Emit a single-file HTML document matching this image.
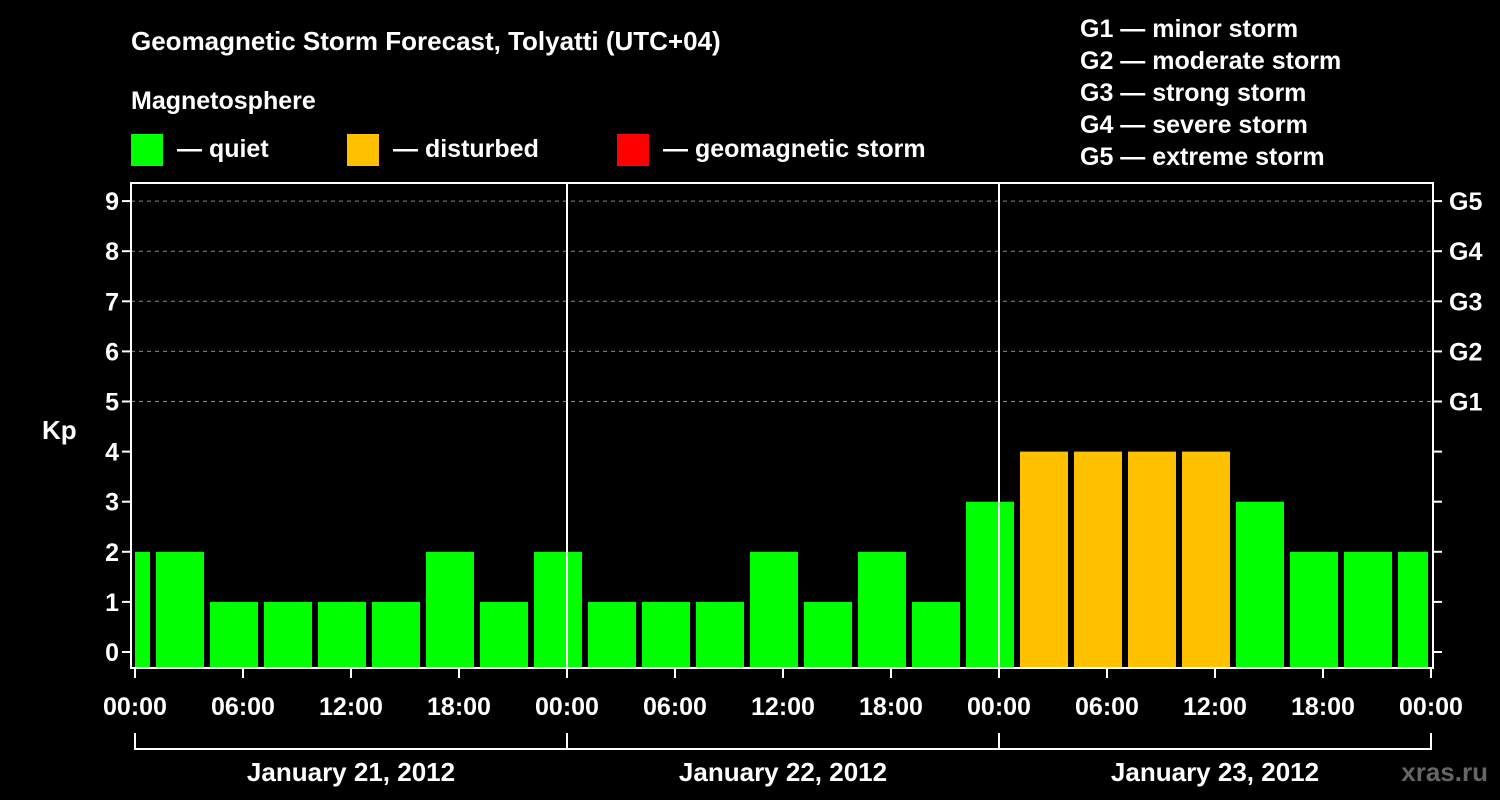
<!DOCTYPE html>
<html><head><meta charset="utf-8"><style>
body{margin:0;background:#000;}
svg{display:block;font-family:"Liberation Sans",sans-serif;font-weight:bold;}
</style></head><body>
<svg id="c" width="1500" height="800" viewBox="0 0 1500 800">
<rect width="1500" height="800" fill="#000"/>
<text x="131" y="50" fill="#fff" font-size="26">Geomagnetic Storm Forecast, Tolyatti (UTC+04)</text>
<text x="131" y="109" fill="#fff" font-size="25">Magnetosphere</text>
<g>
<rect x="131" y="134" width="32" height="32" fill="#00ff00"/>
<text x="177" y="157" fill="#fff" font-size="25">— quiet</text>
<rect x="347" y="134" width="32" height="32" fill="#ffc000"/>
<text x="393" y="157" fill="#fff" font-size="25">— disturbed</text>
<rect x="617" y="134" width="32" height="32" fill="#ff0000"/>
<text x="663" y="157" fill="#fff" font-size="25">— geomagnetic storm</text>
</g>
<g fill="#fff" font-size="25">
<text x="1080" y="37">G1 — minor storm</text>
<text x="1080" y="69">G2 — moderate storm</text>
<text x="1080" y="101">G3 — strong storm</text>
<text x="1080" y="133">G4 — severe storm</text>
<text x="1080" y="165">G5 — extreme storm</text>
</g>
<text x="42" y="439" fill="#fff" font-size="26">Kp</text>
<text x="1488" y="781" fill="#666" font-size="26" text-anchor="end">xras.ru</text>
<g id="grid"></g><g id="bars"></g><g id="axes"></g>
</svg>
<script>
const kpValues=[2,2,1,1,1,1,2,1,2,1,1,1,2,1,2,1,3,4,4,4,4,3,2,2,2];
const kpStatus=["q","q","q","q","q","q","q","q","q","q","q","q","q","q","q","q","q","d","d","d","d","q","q","q","q"];
const xTickLabels=["00:00","06:00","12:00","18:00","00:00","06:00","12:00","18:00","00:00","06:00","12:00","18:00","00:00"];
const dayLabels=["January 21, 2012","January 22, 2012","January 23, 2012"];
const yTicks=[0,1,2,3,4,5,6,7,8,9];
const gLabels=["G1","G2","G3","G4","G5"];
const NS="http://www.w3.org/2000/svg";
const X0=135,PXH=18,Y0=652,PXK=50.1;
const L=131,R=1433,T=183,B=668;
function x(h){return X0+h*PXH;}
function y(k){return Y0-k*PXK;}
function mk(tag,attrs,parent){const e=document.createElementNS(NS,tag);for(const k in attrs)e.setAttribute(k,attrs[k]);parent.appendChild(e);return e;}
const grid=document.getElementById('grid'),bars=document.getElementById('bars'),axes=document.getElementById('axes');
const colors={q:"#00ff00",d:"#ffc000",s:"#ff0000"};
yTicks.forEach(k=>{
 if(k>=5){const g=mk('line',{x1:L,x2:R,y1:y(k),y2:y(k),stroke:"#888","stroke-width":1,"stroke-dasharray":"4,4"},grid);
 
 }
 const t=mk('line',{x1:L-9,x2:L,y1:y(k),y2:y(k),stroke:"#fff","stroke-width":2},axes);
 
 
 const rt=mk('line',{x1:R,x2:R+9,y1:y(k),y2:y(k),stroke:"#fff","stroke-width":2},axes);
 
 
 const lb=mk('text',{x:L-12,y:y(k)+9,fill:"#fff","font-size":25,"text-anchor":"end"},axes);
 lb.textContent=k;
 
 
});
gLabels.forEach((g,i)=>{
 const t=mk('text',{x:R+16,y:y(5+i)+9,fill:"#fff","font-size":25},axes);
 t.textContent=g;
 
 
});
kpValues.forEach((v,i)=>{
 const s=-2+3*i;
 let x1=Math.max(x(s)+3,X0),x2=Math.min(x(s+3)-3,1428);
 if(x2<=x1)return;
 const r=mk('rect',{x:x1,y:y(v),width:x2-x1,height:B-1-y(v),fill:colors[kpStatus[i]]},bars);
 
 
});
[1,2].forEach(d=>{
 const l=mk('line',{x1:x(24*d),x2:x(24*d),y1:T,y2:B,stroke:"#fff","stroke-width":2},axes);
 
 
});
const f=mk('rect',{x:L,y:T,width:R-L,height:B-T,fill:"none",stroke:"#fff","stroke-width":2},axes);


xTickLabels.forEach((lab,i)=>{
 const xx=x(6*i);
 const t=mk('line',{x1:xx,x2:xx,y1:B,y2:B+10,stroke:"#fff","stroke-width":2},axes);
 
 
 const tx=mk('text',{x:xx,y:715,fill:"#fff","font-size":25,"text-anchor":"middle"},axes);
 tx.textContent=lab;
 
 
});
const br=mk('line',{x1:x(0),x2:x(72),y1:749,y2:749,stroke:"#fff","stroke-width":2},axes);


[0,1,2,3].forEach(d=>{
 const v=mk('line',{x1:x(24*d),x2:x(24*d),y1:733,y2:750,stroke:"#fff","stroke-width":2},axes);
 
 
});
dayLabels.forEach((d,i)=>{
 const t=mk('text',{x:x(24*i+12),y:781,fill:"#fff","font-size":26,"text-anchor":"middle"},axes);
 t.textContent=d;
 
 
});
</script>
</body></html>
